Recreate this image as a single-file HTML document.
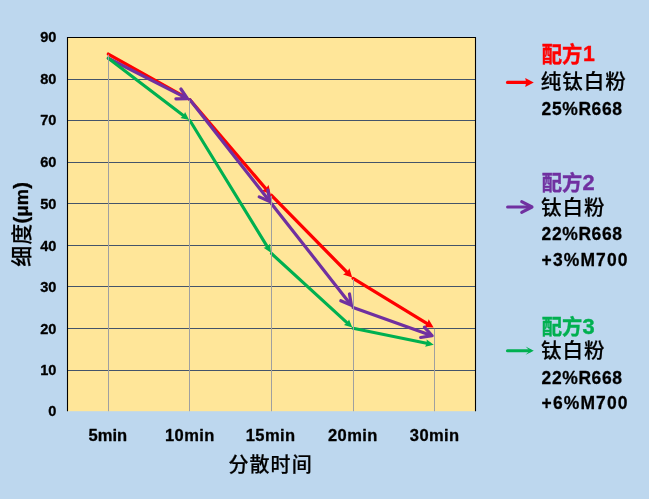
<!DOCTYPE html>
<html lang="zh"><head><meta charset="utf-8"><title>细度 - 分散时间</title>
<style>
html,body{margin:0;padding:0;background:#BDD7EE;}
body{width:649px;height:499px;overflow:hidden;}
svg{display:block;}
text{font-family:"Liberation Sans","Noto Sans CJK SC",sans-serif;fill:#000;}
.b{font-weight:bold;stroke:#000;stroke-width:0.3px;stroke-linejoin:round;}
.bc{font-weight:bold;}
.m{font-weight:500;stroke:#000;stroke-width:0.2px;}
</style></head><body>
<svg width="649" height="499" viewBox="0 0 649 499">
<rect x="0" y="0" width="649" height="499" fill="#BDD7EE"/>
<rect x="67.5" y="37.5" width="408.0" height="373.7" fill="#FFE699"/>
<rect x="67.5" y="370" width="408.0" height="1" fill="#44546A"/>
<rect x="67.5" y="328" width="408.0" height="1" fill="#44546A"/>
<rect x="67.5" y="286" width="408.0" height="1" fill="#44546A"/>
<rect x="67.5" y="245" width="408.0" height="1" fill="#44546A"/>
<rect x="67.5" y="203" width="408.0" height="1" fill="#44546A"/>
<rect x="67.5" y="162" width="408.0" height="1" fill="#44546A"/>
<rect x="67.5" y="120" width="408.0" height="1" fill="#44546A"/>
<rect x="67.5" y="79" width="408.0" height="1" fill="#44546A"/>
<polyline points="67.5,411.2 67.5,37.5 475.5,37.5 475.5,411.2" fill="none" stroke="#000" stroke-width="1.1"/>
<line x1="108.30" y1="54.07" x2="184.32" y2="96.65" stroke="#FF0000" stroke-width="3.3" stroke-linecap="round"/>
<polygon points="188.77,99.14 179.15,98.91 182.24,95.48 183.55,91.06" fill="#FF0000"/>
<line x1="189.90" y1="99.77" x2="267.34" y2="190.47" stroke="#FF0000" stroke-width="3.3" stroke-linecap="round"/>
<polygon points="270.66,194.35 261.71,190.81 265.80,188.66 268.56,184.97" fill="#FF0000"/>
<line x1="271.50" y1="195.34" x2="348.62" y2="273.87" stroke="#FF0000" stroke-width="3.3" stroke-linecap="round"/>
<polygon points="352.19,277.51 343.02,274.60 346.95,272.18 349.44,268.29" fill="#FF0000"/>
<line x1="353.10" y1="278.44" x2="429.24" y2="324.96" stroke="#FF0000" stroke-width="3.3" stroke-linecap="round"/>
<polygon points="433.59,327.62 423.99,327.03 427.21,323.72 428.68,319.35" fill="#FF0000"/>
<line x1="108.30" y1="58.22" x2="186.07" y2="97.82" stroke="#7030A0" stroke-width="3.2" stroke-linecap="round"/>
<polyline points="175.91,98.82 187.49,98.55 180.90,89.02" fill="none" stroke="#7030A0" stroke-width="3.2" stroke-linecap="round" stroke-linejoin="round"/>
<line x1="189.90" y1="99.77" x2="268.84" y2="200.27" stroke="#7030A0" stroke-width="3.2" stroke-linecap="round"/>
<polyline points="259.21,196.90 269.83,201.53 267.86,190.11" fill="none" stroke="#7030A0" stroke-width="3.2" stroke-linecap="round" stroke-linejoin="round"/>
<line x1="271.50" y1="203.65" x2="350.44" y2="304.14" stroke="#7030A0" stroke-width="3.2" stroke-linecap="round"/>
<polyline points="340.81,300.78 351.43,305.40 349.46,293.98" fill="none" stroke="#7030A0" stroke-width="3.2" stroke-linecap="round" stroke-linejoin="round"/>
<line x1="353.10" y1="307.52" x2="430.65" y2="335.17" stroke="#7030A0" stroke-width="3.2" stroke-linecap="round"/>
<polyline points="420.70,337.46 432.16,335.70 424.40,327.10" fill="none" stroke="#7030A0" stroke-width="3.2" stroke-linecap="round" stroke-linejoin="round"/>
<line x1="108.30" y1="58.22" x2="185.29" y2="117.03" stroke="#00B050" stroke-width="3.1" stroke-linecap="round"/>
<polygon points="189.11,119.94 180.44,118.11 183.51,115.67 185.05,112.07" fill="#00B050"/>
<line x1="189.90" y1="120.55" x2="268.47" y2="248.57" stroke="#00B050" stroke-width="3.1" stroke-linecap="round"/>
<polygon points="270.98,252.66 263.55,247.83 267.29,246.66 270.03,243.85" fill="#00B050"/>
<line x1="271.50" y1="253.51" x2="348.82" y2="324.38" stroke="#00B050" stroke-width="3.1" stroke-linecap="round"/>
<polygon points="352.36,327.62 343.90,325.02 347.17,322.87 349.03,319.42" fill="#00B050"/>
<line x1="353.10" y1="328.30" x2="429.02" y2="343.76" stroke="#00B050" stroke-width="3.1" stroke-linecap="round"/>
<polygon points="433.72,344.72 425.12,346.85 426.82,343.32 426.64,339.40" fill="#00B050"/>
<rect x="108" y="54.57" width="1" height="356.63" fill="#A0A0A0"/>
<rect x="189" y="100.27" width="1" height="310.93" fill="#A0A0A0"/>
<rect x="271" y="195.84" width="1" height="215.36" fill="#A0A0A0"/>
<rect x="353" y="278.94" width="1" height="132.26" fill="#A0A0A0"/>
<rect x="434" y="328.80" width="1" height="82.40" fill="#A0A0A0"/>
<text id="y0" class="b" x="56.4" y="415.8" text-anchor="end" style="font-size:14.6px;">0</text>
<text id="y10" class="b" x="56.4" y="375.0" text-anchor="end" style="font-size:14.6px;">10</text>
<text id="y20" class="b" x="56.4" y="333.5" text-anchor="end" style="font-size:14.6px;">20</text>
<text id="y30" class="b" x="56.4" y="292.1" text-anchor="end" style="font-size:14.6px;">30</text>
<text id="y40" class="b" x="56.4" y="250.5" text-anchor="end" style="font-size:14.6px;">40</text>
<text id="y50" class="b" x="56.4" y="209.1" text-anchor="end" style="font-size:14.6px;">50</text>
<text id="y60" class="b" x="56.4" y="167.4" text-anchor="end" style="font-size:14.6px;">60</text>
<text id="y70" class="b" x="56.4" y="125.2" text-anchor="end" style="font-size:14.6px;">70</text>
<text id="y80" class="b" x="56.4" y="84.2" text-anchor="end" style="font-size:14.6px;">80</text>
<text id="y90" class="b" x="56.4" y="42.3" text-anchor="end" style="font-size:14.6px;">90</text>
<text id="c0" class="b" x="107.8" y="441" text-anchor="middle" style="font-size:16.5px;">5min</text>
<text id="c1" class="b" x="189.9" y="441" text-anchor="middle" style="font-size:16.5px;" letter-spacing="0.4">10min</text>
<text id="c2" class="b" x="270.6" y="441" text-anchor="middle" style="font-size:16.5px;" letter-spacing="0.4">15min</text>
<text id="c3" class="b" x="352.9" y="441" text-anchor="middle" style="font-size:16.5px;" letter-spacing="0.4">20min</text>
<text id="c4" class="b" x="434.7" y="441" text-anchor="middle" style="font-size:16.5px;" letter-spacing="0.4">30min</text>
<text id="xt" class="m" x="228.4" y="472" text-anchor="start" style="font-size:20px;" letter-spacing="1.1">分散时间</text>
<text id="yt" transform="translate(29,266.7) rotate(-90)" style="font-size:21px"><tspan class="m" letter-spacing="1">细度</tspan><tspan class="b" dx="-0.9" dy="-1.1" letter-spacing="0.4" style="font-size:20px">(</tspan><tspan class="b" letter-spacing="0.4" style="font-size:18px">μm</tspan><tspan class="b" letter-spacing="0.4" style="font-size:20px">)</tspan></text>
<text id="l1t" class="bc" transform="translate(541.8,61.9) scale(0.94,1)" text-anchor="start" style="font-size:21.6px;fill:#FF0000;" stroke="#FF0000" stroke-width="0.4">配方<tspan dx="0.5" dy="-0.5" style="font-size:22.6px">1</tspan></text>
<text id="l1_0" class="m" x="540.7" y="89.0" text-anchor="start" style="font-size:20.5px;" letter-spacing="1.0">纯钛白粉</text>
<text id="l1_1" class="b" transform="translate(541.6,114.6) scale(0.93,1)" text-anchor="start" style="font-size:18.8px;" letter-spacing="0.65">25%R668</text>
<line x1="507.50" y1="82.40" x2="528.64" y2="82.40" stroke="#FF0000" stroke-width="3.1" stroke-linecap="round"/>
<polygon points="533.80,82.40 525.20,86.90 526.23,82.40 525.20,77.90" fill="#FF0000"/>
<text id="l2t" class="bc" transform="translate(541.8,190.3) scale(0.965,1)" text-anchor="start" style="font-size:21px;fill:#7030A0;" stroke="#7030A0" stroke-width="0.4">配方<tspan dx="0.3" dy="-0.5" style="font-size:22.6px">2</tspan></text>
<text id="l2_0" class="m" x="541" y="214.5" text-anchor="start" style="font-size:20.5px;" letter-spacing="1.0">钛白粉</text>
<text id="l2_1" class="b" transform="translate(541.6,239.9) scale(0.93,1)" text-anchor="start" style="font-size:18.8px;" letter-spacing="0.65">22%R668</text>
<text id="l2_2" class="b" transform="translate(541.6,265.7) scale(0.93,1)" text-anchor="start" style="font-size:18.8px;" letter-spacing="1.2">+3%M700</text>
<line x1="507.60" y1="207.00" x2="530.45" y2="207.00" stroke="#7030A0" stroke-width="3.1" stroke-linecap="round"/>
<polyline points="521.70,212.30 532.00,207.00 521.70,201.70" fill="none" stroke="#7030A0" stroke-width="3.1" stroke-linecap="round" stroke-linejoin="round"/>
<text id="l3t" class="bc" transform="translate(541.8,334.3) scale(0.965,1)" text-anchor="start" style="font-size:21px;fill:#00B050;" stroke="#00B050" stroke-width="0.4">配方<tspan dx="0.3" dy="-0.5" style="font-size:22.6px">3</tspan></text>
<text id="l3_0" class="m" x="541" y="358.1" text-anchor="start" style="font-size:20.5px;" letter-spacing="1.0">钛白粉</text>
<text id="l3_1" class="b" transform="translate(541.6,384.1) scale(0.93,1)" text-anchor="start" style="font-size:18.8px;" letter-spacing="0.65">22%R668</text>
<text id="l3_2" class="b" transform="translate(541.6,409.0) scale(0.93,1)" text-anchor="start" style="font-size:18.8px;" letter-spacing="1.2">+6%M700</text>
<line x1="507.50" y1="350.70" x2="530.11" y2="350.70" stroke="#00B050" stroke-width="3.1" stroke-linecap="round"/>
<polygon points="533.80,350.70 525.60,354.80 529.70,350.70 525.60,346.60" fill="#00B050"/>
</svg></body></html>
